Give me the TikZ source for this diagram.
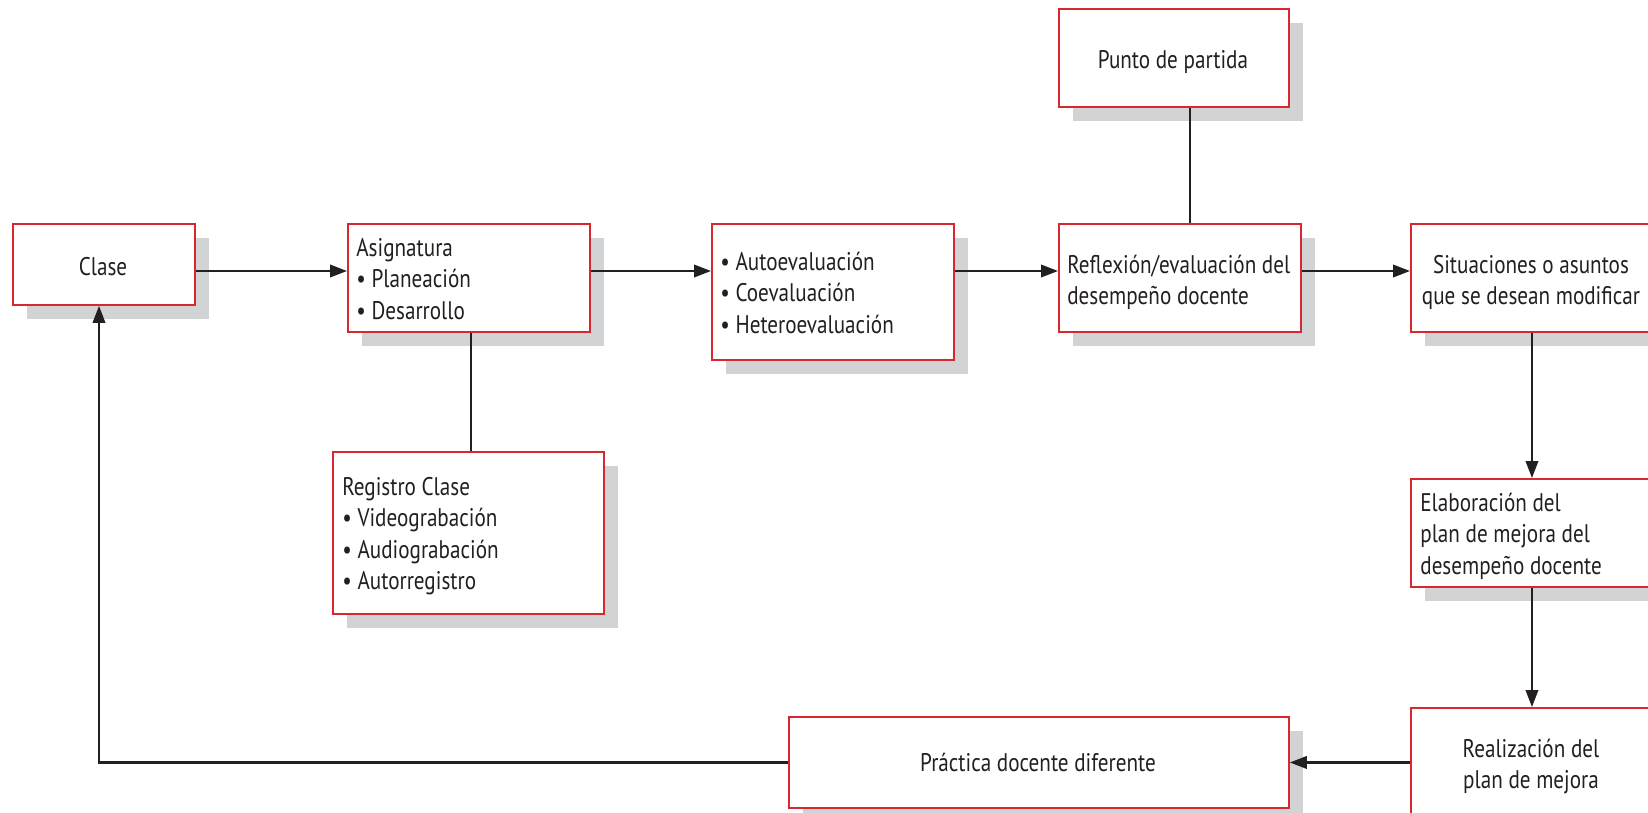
\documentclass[tikz,border=0pt]{standalone}
\usepackage{fontspec}
\setmainfont{PT Sans}[FakeStretch=0.83]
\usetikzlibrary{arrows.meta,shadows}
\definecolor{boxred}{HTML}{D7282F}
\definecolor{shadowgray}{HTML}{D1D3D4}
\definecolor{linek}{HTML}{231F20}
\begin{document}
\begin{tikzpicture}[x=0.02cm,y=-0.02cm,
  font=\fontsize{14.5pt}{18pt}\selectfont,
  box/.style={draw=boxred, line width=1.1pt, fill=white, anchor=north west, inner sep=0pt,
    drop shadow={shadow xshift=0.28cm, shadow yshift=-0.28cm, fill=shadowgray, opacity=1}},
  txt/.style={inner sep=0pt, anchor=base west, text=linek},
  ctxt/.style={inner sep=0pt, anchor=base, text=linek},
  arr/.style={draw=linek, line width=1.2pt, -{Triangle[length=0.34cm,width=0.25cm]}},
  ln/.style={draw=linek, line width=1.2pt}]
\useasboundingbox (0,0) rectangle (1648,812);
% boxes
\node[box, minimum width=3.64cm, minimum height=1.62cm] (clase) at (12,223) {};
\node[box, minimum width=4.84cm, minimum height=2.16cm] (asig) at (347,223) {};
\node[box, minimum width=4.84cm, minimum height=2.72cm] (auto) at (711,223) {};
\node[box, minimum width=4.84cm, minimum height=2.16cm] (refl) at (1058,223) {};
\node[box, minimum width=4.84cm, minimum height=2.16cm] (sit) at (1410,223) {};
\node[box, minimum width=4.60cm, minimum height=1.96cm] (punto) at (1058,8) {};
\node[box, minimum width=5.42cm, minimum height=3.24cm] (reg) at (332,451) {};
\node[box, minimum width=4.84cm, minimum height=2.16cm] (elab) at (1410,478) {};
\node[box, minimum width=4.84cm, minimum height=2.40cm] (real) at (1410,707) {};
\node[box, minimum width=10.0cm, minimum height=1.82cm] (prac) at (788,716) {};
% texts
\node[ctxt] (tclase) at (103,275) {Clase};
\node[txt] (tasig) at (356,256) {\parbox[t]{5cm}{\raggedright Asignatura\\• Planeación\\• Desarrollo}};
\node[txt] (tauto) at (720,270) {\parbox[t]{5cm}{\raggedright • Autoevaluación\\• Coevaluación\\• Heteroevaluación}};
\node[txt] (trefl) at (1067,273) {\parbox[t]{5cm}{\raggedright Reflexión/evaluación del\\desempeño docente}};
\node[ctxt] (tsit) at (1531,273) {\parbox[t]{5cm}{\centering Situaciones o asuntos\\que se desean modificar}};
\node[ctxt] (tpunto) at (1173,68) {Punto de partida};
\node[txt] (treg) at (342,495) {\parbox[t]{5cm}{\raggedright Registro Clase\\• Videograbación\\• Audiograbación\\• Autorregistro}};
\node[txt] (telab) at (1420,511) {\parbox[t]{5cm}{\raggedright Elaboración del\\plan de mejora del\\desempeño docente}};
\node[ctxt] (treal) at (1531,757) {\parbox[t]{5cm}{\centering Realización del\\plan de mejora}};
\node[ctxt] (tprac) at (1038,771) {Práctica docente diferente};
% connectors
\coordinate (row) at (0,271);
\coordinate (xp) at (1190,0);
\coordinate (xr) at (471,0);
\coordinate (xl) at (99,0);
\draw[arr] (clase.east |- row) -- (asig.west |- row);
\draw[arr] (asig.east |- row) -- (auto.west |- row);
\draw[arr] (auto.east |- row) -- (refl.west |- row);
\draw[arr] (refl.east |- row) -- (sit.west |- row);
\draw[ln] (punto.south -| xp) -- (refl.north -| xp);
\draw[ln] (asig.south -| xr) -- (reg.north -| xr);
\draw[arr] (sit.south) -- (elab.north);
\draw[arr] (elab.south) -- (real.north);
\draw[arr] (real.west |- prac.east) -- (prac.east);
\draw[arr] (prac.west) -| (clase.south -| xl);
\end{tikzpicture}
\end{document}
